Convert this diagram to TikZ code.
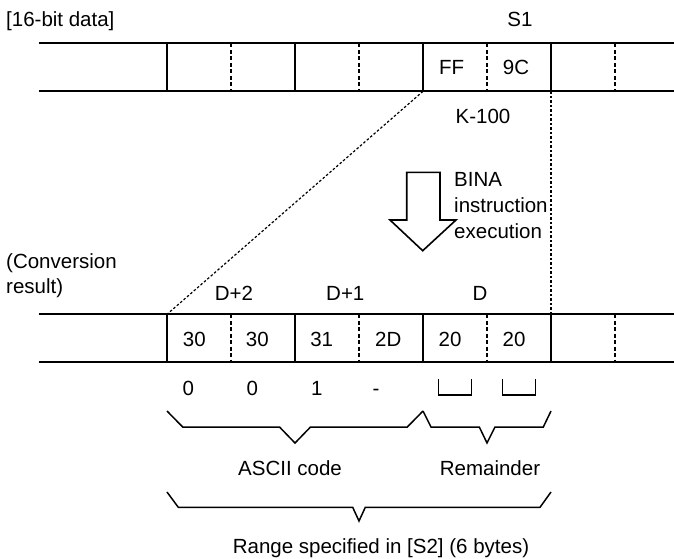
\documentclass[tikz,border=0pt]{standalone}
\usepackage{fontspec}
\setmainfont{Liberation Sans}
\begin{document}
\begin{tikzpicture}[x=1pt,y=-1pt,
  font=\fontsize{20.5}{25}\selectfont,
  rowline/.style={line width=1.9pt},
  halfsep/.style={line width=1.8pt, dash pattern=on 4pt off 2.5pt},
  guide/.style={line width=1.2pt, dash pattern=on 2.5pt off 2pt},
  bracestyle/.style={line width=1.5pt, line join=miter},
  lbl/.style={inner sep=0pt, anchor=base},
  lblw/.style={inner sep=0pt, anchor=base west},
]
\useasboundingbox (0,0) rectangle (674,558);

% ---- two memory rows ----
\foreach \ytop in {43.3,314.3}{
  \pgfmathsetmacro{\ybot}{\ytop+48}
  \draw[rowline] (38.7,\ytop) -- (674,\ytop);
  \draw[rowline] (38.7,\ybot) -- (674,\ybot);
  \foreach \xs in {167,295,423,551}{
    \draw[rowline] (\xs,\ytop) -- (\xs,\ybot);
  }
  \foreach \xd in {231,359,487,615}{
    \draw[halfsep] (\xd,\ytop) -- (\xd,\ybot);
  }
}
\coordinate (topA) at (423,91.3);
\coordinate (topB) at (551,91.3);
\coordinate (botA) at (167,314.3);
\coordinate (botB) at (551,314.3);

% ---- guide lines ----
\draw[guide] (topA) -- (botA);
\draw[guide] (topB) -- (botB);

% ---- labels top ----
\node[lblw] (title) at (6,26.5) {[16-bit data]};
\node[lbl] (s1) at (520,26.5) {S1};
\node[lbl] (ff) at (451.7,74.6) {FF};
\node[lbl] (nc) at (516,74.6) {9C};
\node[lbl] (k100) at (483,123.3) {K-100};

% ---- big arrow ----
\draw[line width=1.6pt, line join=miter]
  (406.7,172.3) -- (440,172.3) -- (440,220) -- (456,220) -- (422.7,250.7)
  -- (390,220) -- (406.7,220) -- cycle;
\node[lblw] (bina1) at (454,186.7) {BINA};
\node[lblw] (bina2) at (454,212.5) {instruction};
\node[lblw] (bina3) at (454,238.3) {execution};

% ---- conversion result labels ----
\node[lblw] (conv1) at (6,268.3) {(Conversion};
\node[lblw] (conv2) at (6,293.3) {result)};
\node[lbl] (d2) at (234,300) {D+2};
\node[lbl] (d1) at (345.3,300) {D+1};
\node[lbl] (d0) at (480,300) {D};

% ---- cell contents ----
\node[lbl] (c1) at (194.3,346.7) {30};
\node[lbl] (c2) at (257.3,346.7) {30};
\node[lbl] (c3) at (321.7,346.7) {31};
\node[lbl] (c4) at (388.3,346.7) {2D};
\node[lbl] (c5) at (450,346.7) {20};
\node[lbl] (c6) at (514,346.7) {20};

% ---- characters ----
\node[lbl] (a1) at (188.3,395) {0};
\node[lbl] (a2) at (252.3,395) {0};
\node[lbl] (a3) at (316.7,395) {1};
\node[lbl] (a4) at (376,395) {-};
\draw[line width=1.6pt, line join=miter] (438.5,379) -- (438.5,395) -- (471.3,395) -- (471.3,379);
\draw[line width=1.6pt, line join=miter] (502.5,379) -- (502.5,395) -- (535.5,395) -- (535.5,379);

% ---- braces ----
\draw[bracestyle] (167,411) -- (182.7,427) -- (279.5,427) -- (295,443) -- (310.5,427) -- (407.3,427) -- (423,411);
\draw[bracestyle] (423,411) -- (431,427) -- (479.3,427) -- (487,443) -- (495,427) -- (543.3,427) -- (551,411);
\draw[bracestyle] (167,492) -- (178.3,507.3) -- (352.7,507.3) -- (359,521) -- (365.3,507.3) -- (540,507.3) -- (551,492);

\node[lbl] (ascii) at (290,475.3) {ASCII code};
\node[lbl] (rem) at (490,475.3) {Remainder};
\node[lbl] (range) at (381,553.5) {Range specified in [S2] (6 bytes)};
\end{tikzpicture}
\end{document}
